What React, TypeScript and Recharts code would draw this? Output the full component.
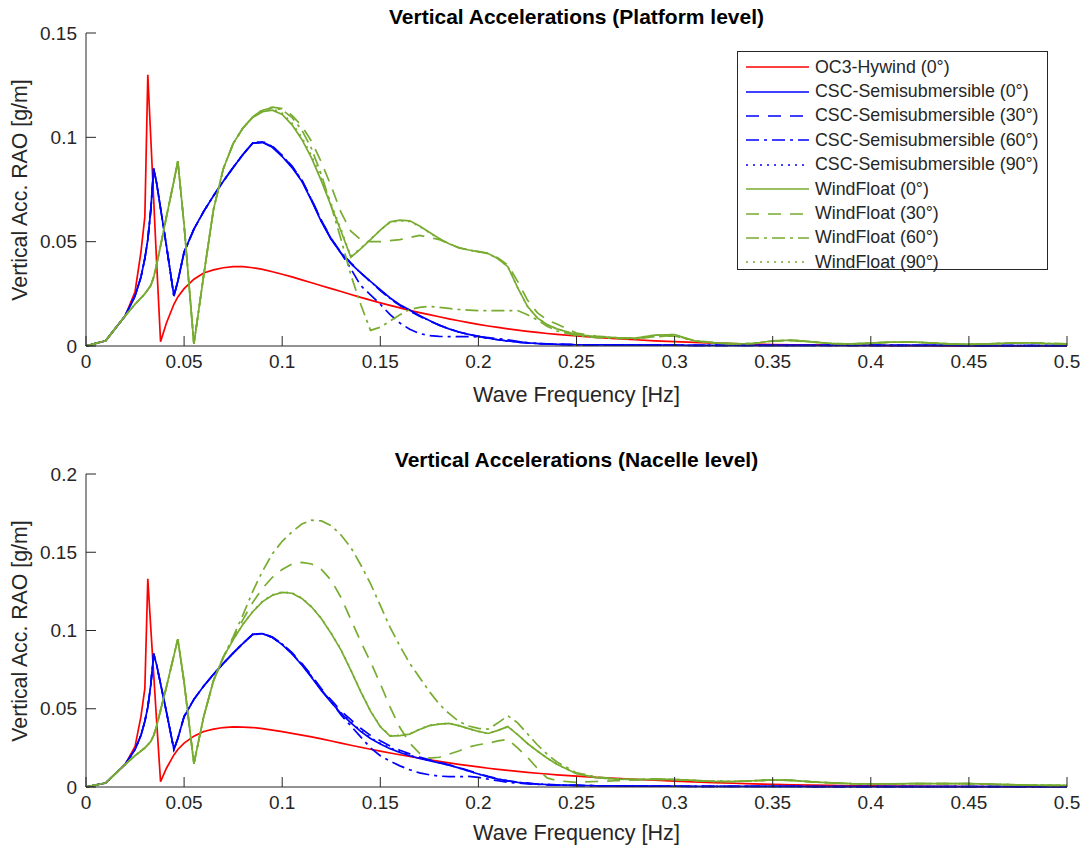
import { Legend, Line, LineChart, XAxis, YAxis } from "recharts";

// wave frequency [Hz]
const FREQ = [
  0, 0.01, 0.02, 0.025, 0.028, 0.03, 0.0315, 0.033, 0.0345, 0.036,
  0.038, 0.041, 0.0448, 0.0468, 0.05, 0.055, 0.06, 0.065, 0.07, 0.075,
  0.08, 0.085, 0.09, 0.095, 0.1, 0.105, 0.11, 0.115, 0.12, 0.125,
  0.13, 0.135, 0.14, 0.145, 0.15, 0.155, 0.16, 0.165, 0.17, 0.175,
  0.18, 0.185, 0.19, 0.195, 0.2, 0.205, 0.21, 0.215, 0.22, 0.225,
  0.23, 0.235, 0.24, 0.25, 0.26, 0.27, 0.28, 0.29, 0.3, 0.31,
  0.32, 0.33, 0.34, 0.35, 0.36, 0.37, 0.38, 0.39, 0.4, 0.41,
  0.42, 0.43, 0.44, 0.45, 0.46, 0.47, 0.48, 0.49, 0.5,
];

// ---- platform level ----
const OC3_P = [
  0, 0.0025, 0.0145, 0.026, 0.045, 0.062, 0.13, 0.1, 0.07, 0.04,
  0.002, 0.011, 0.02, 0.0235, 0.0275, 0.032, 0.035, 0.0365, 0.0375, 0.038,
  0.038, 0.0375, 0.0367, 0.0356, 0.0344, 0.0331, 0.0317, 0.0303, 0.0289, 0.0275,
  0.0261, 0.0247, 0.0233, 0.022, 0.0207, 0.0195, 0.0183, 0.0171, 0.016, 0.015,
  0.014, 0.013, 0.0121, 0.0112, 0.0104, 0.0096, 0.0089, 0.0082, 0.0076, 0.007,
  0.0065, 0.006, 0.0056, 0.0048, 0.0041, 0.0035, 0.003, 0.0025, 0.0021, 0.0017,
  0.0014, 0.0011, 0.0009, 0.0007, 0.0006, 0.0005, 0.0004, 0.0003, 0.0003, 0.0002,
  0.0002, 0.0002, 0.0001, 0.0001, 0.0001, 0.0001, 0.0001, 0.0001, 0.0001,
];
const CSC0_P = [
  0, 0.0025, 0.0145, 0.024, 0.033, 0.042, 0.051, 0.065, 0.085, 0.078,
  0.066, 0.048, 0.024, 0.031, 0.045, 0.056, 0.0645, 0.072, 0.079, 0.0855,
  0.0918, 0.0972, 0.0975, 0.0952, 0.0908, 0.0855, 0.079, 0.0695, 0.0595, 0.051,
  0.0445, 0.0395, 0.035, 0.031, 0.027, 0.023, 0.0198, 0.0172, 0.0146, 0.0122,
  0.01, 0.0082, 0.0067, 0.0056, 0.0046, 0.0037, 0.003, 0.0024, 0.0019, 0.0015,
  0.0012, 0.001, 0.0008, 0.0006, 0.0005, 0.0005, 0.0004, 0.0004, 0.0004, 0.0003,
  0.0003, 0.0003, 0.0003, 0.0003, 0.0003, 0.0003, 0.0003, 0.0003, 0.0003, 0.0003,
  0.0003, 0.0003, 0.0003, 0.0002, 0.0002, 0.0002, 0.0002, 0.0002, 0.0002,
];
const CSC30_P = [
  0, 0.0025, 0.0145, 0.024, 0.033, 0.042, 0.051, 0.065, 0.085, 0.078,
  0.066, 0.048, 0.024, 0.031, 0.045, 0.056, 0.0645, 0.072, 0.079, 0.0855,
  0.0918, 0.0972, 0.0978, 0.0958, 0.0914, 0.0862, 0.0796, 0.0702, 0.0602, 0.0515,
  0.0448, 0.0398, 0.0352, 0.0308, 0.0266, 0.0226, 0.0194, 0.0168, 0.0143, 0.012,
  0.01, 0.0082, 0.0067, 0.0056, 0.0046, 0.0037, 0.003, 0.0024, 0.0019, 0.0015,
  0.0012, 0.001, 0.0008, 0.0006, 0.0005, 0.0005, 0.0004, 0.0004, 0.0004, 0.0003,
  0.0003, 0.0003, 0.0003, 0.0003, 0.0003, 0.0003, 0.0003, 0.0003, 0.0003, 0.0003,
  0.0003, 0.0003, 0.0003, 0.0002, 0.0002, 0.0002, 0.0002, 0.0002, 0.0002,
];
const CSC60_P = [
  0, 0.0025, 0.0145, 0.024, 0.033, 0.042, 0.051, 0.065, 0.085, 0.078,
  0.066, 0.048, 0.024, 0.031, 0.045, 0.056, 0.0645, 0.072, 0.079, 0.0855,
  0.0918, 0.0973, 0.0977, 0.0955, 0.0911, 0.086, 0.0795, 0.07, 0.06, 0.0512,
  0.0445, 0.037, 0.029, 0.0245, 0.02, 0.015, 0.011, 0.008, 0.006, 0.005,
  0.0046, 0.0045, 0.0045, 0.0045, 0.0044, 0.004, 0.0035, 0.003, 0.0022, 0.0016,
  0.0012, 0.001, 0.0008, 0.0006, 0.0005, 0.0005, 0.0004, 0.0004, 0.0004, 0.0003,
  0.0003, 0.0003, 0.0003, 0.0003, 0.0003, 0.0003, 0.0003, 0.0003, 0.0003, 0.0003,
  0.0003, 0.0003, 0.0003, 0.0002, 0.0002, 0.0002, 0.0002, 0.0002, 0.0002,
];
const CSC90_P = [
  0, 0.0025, 0.0145, 0.024, 0.033, 0.042, 0.051, 0.065, 0.085, 0.078,
  0.066, 0.048, 0.024, 0.031, 0.045, 0.056, 0.0645, 0.072, 0.079, 0.0855,
  0.0918, 0.0974, 0.098, 0.0956, 0.091, 0.0858, 0.0793, 0.0698, 0.0598, 0.0512,
  0.0447, 0.0396, 0.035, 0.0309, 0.0268, 0.0228, 0.0196, 0.017, 0.0145, 0.0121,
  0.01, 0.0082, 0.0067, 0.0056, 0.0046, 0.0037, 0.003, 0.0024, 0.0019, 0.0015,
  0.0012, 0.001, 0.0008, 0.0006, 0.0005, 0.0005, 0.0004, 0.0004, 0.0004, 0.0003,
  0.0003, 0.0003, 0.0003, 0.0003, 0.0003, 0.0003, 0.0003, 0.0003, 0.0003, 0.0003,
  0.0003, 0.0003, 0.0003, 0.0002, 0.0002, 0.0002, 0.0002, 0.0002, 0.0002,
];
const WF0_P = [
  0, 0.0025, 0.0145, 0.02, 0.023, 0.025, 0.027, 0.029, 0.033, 0.039,
  0.048, 0.062, 0.079, 0.0886, 0.058, 0.001, 0.034, 0.0655, 0.085, 0.097,
  0.1045, 0.1095, 0.1123, 0.113, 0.111, 0.106, 0.099, 0.09, 0.079, 0.067,
  0.055, 0.0425, 0.0465, 0.051, 0.0555, 0.0595, 0.0603, 0.06, 0.0575, 0.0545,
  0.0515, 0.049, 0.0472, 0.046, 0.0452, 0.0443, 0.0418, 0.038, 0.028, 0.019,
  0.0135, 0.0103, 0.0082, 0.0055, 0.0045, 0.004, 0.0038, 0.0052, 0.0055, 0.0025,
  0.0015, 0.001, 0.0012, 0.0025, 0.0028, 0.002, 0.0012, 0.001, 0.0014, 0.0019,
  0.002, 0.0015, 0.001, 0.0008, 0.001, 0.0014, 0.0015, 0.0012, 0.001,
];
const WF30_P = [
  0, 0.0025, 0.0145, 0.02, 0.023, 0.025, 0.027, 0.029, 0.033, 0.039,
  0.048, 0.062, 0.079, 0.0886, 0.058, 0.001, 0.034, 0.0655, 0.085, 0.097,
  0.1045, 0.1098, 0.1132, 0.1145, 0.1138, 0.1105, 0.1055, 0.098, 0.088, 0.0765,
  0.064, 0.055, 0.051, 0.05, 0.05, 0.0505, 0.051, 0.052, 0.053, 0.052,
  0.051, 0.049, 0.047, 0.046, 0.0452, 0.0445, 0.0422, 0.0388, 0.031, 0.022,
  0.016, 0.0125, 0.0105, 0.0062, 0.0048, 0.004, 0.0037, 0.0045, 0.005, 0.0026,
  0.0016, 0.0011, 0.0012, 0.0023, 0.0026, 0.0019, 0.0012, 0.001, 0.0013, 0.0018,
  0.0019, 0.0015, 0.001, 0.0008, 0.001, 0.0013, 0.0014, 0.0012, 0.001,
];
const WF60_P = [
  0, 0.0025, 0.0145, 0.02, 0.023, 0.025, 0.027, 0.029, 0.033, 0.039,
  0.048, 0.062, 0.079, 0.0886, 0.058, 0.001, 0.034, 0.0655, 0.085, 0.097,
  0.1045, 0.1098, 0.113, 0.1142, 0.1132, 0.1095, 0.1035, 0.0945, 0.082, 0.067,
  0.051, 0.034, 0.02, 0.0075, 0.009, 0.012, 0.015, 0.0175, 0.0185, 0.019,
  0.0185, 0.018, 0.0175, 0.0172, 0.017, 0.017, 0.017, 0.017, 0.017, 0.015,
  0.0125, 0.0095, 0.0072, 0.005, 0.004, 0.0036, 0.0034, 0.0045, 0.0048, 0.0024,
  0.0015, 0.001, 0.0012, 0.0024, 0.0027, 0.002, 0.0012, 0.001, 0.0014, 0.0018,
  0.0019, 0.0015, 0.001, 0.0008, 0.001, 0.0014, 0.0015, 0.0012, 0.001,
];
const WF90_P = [
  0, 0.0025, 0.0145, 0.02, 0.023, 0.025, 0.027, 0.029, 0.033, 0.039,
  0.048, 0.062, 0.079, 0.0886, 0.058, 0.001, 0.034, 0.0655, 0.085, 0.097,
  0.1045, 0.1097, 0.1127, 0.1136, 0.1116, 0.1068, 0.1, 0.0912, 0.0802, 0.068,
  0.0558, 0.043, 0.0468, 0.0512, 0.0555, 0.0593, 0.06, 0.0597, 0.0573, 0.0543,
  0.0515, 0.049, 0.0472, 0.046, 0.0452, 0.0443, 0.0418, 0.038, 0.028, 0.019,
  0.0135, 0.0103, 0.0082, 0.0055, 0.0045, 0.004, 0.0038, 0.0052, 0.0055, 0.0025,
  0.0015, 0.001, 0.0012, 0.0025, 0.0028, 0.002, 0.0012, 0.001, 0.0014, 0.0019,
  0.002, 0.0015, 0.001, 0.0008, 0.001, 0.0014, 0.0015, 0.0012, 0.001,
];

// ---- nacelle level ----
const OC3_N = [
  0, 0.0025, 0.0145, 0.026, 0.045, 0.063, 0.133, 0.102, 0.072, 0.042,
  0.0034, 0.012, 0.0205, 0.024, 0.028, 0.0325, 0.0355, 0.037, 0.038, 0.0384,
  0.0383, 0.038, 0.0373, 0.0364, 0.0354, 0.0343, 0.0332, 0.032, 0.0308, 0.0294,
  0.028, 0.0267, 0.0254, 0.0241, 0.0229, 0.0217, 0.0206, 0.0195, 0.0184, 0.0174,
  0.0164, 0.0154, 0.0145, 0.0136, 0.0128, 0.012, 0.0113, 0.0106, 0.01, 0.0094,
  0.0088, 0.0083, 0.0078, 0.007, 0.0062, 0.0055, 0.0049, 0.0043, 0.0038, 0.0033,
  0.0028, 0.0024, 0.002, 0.0017, 0.0014, 0.0012, 0.001, 0.0008, 0.0007, 0.0006,
  0.0005, 0.0004, 0.0004, 0.0003, 0.0003, 0.0002, 0.0002, 0.0002, 0.0002,
];
const CSC0_N = [
  0, 0.0025, 0.0145, 0.024, 0.033, 0.042, 0.051, 0.065, 0.0851, 0.078,
  0.066, 0.048, 0.024, 0.031, 0.045, 0.056, 0.0645, 0.072, 0.079, 0.0855,
  0.0918, 0.0975, 0.098, 0.0955, 0.091, 0.085, 0.078, 0.07, 0.0615, 0.054,
  0.047, 0.041, 0.0355, 0.031, 0.0275, 0.0245, 0.022, 0.02, 0.0182, 0.0168,
  0.0154, 0.014, 0.0122, 0.0102, 0.0083, 0.0065, 0.005, 0.0039, 0.003, 0.0024,
  0.0019, 0.0016, 0.0013, 0.001, 0.0008, 0.0007, 0.0006, 0.0005, 0.0005, 0.0004,
  0.0004, 0.0004, 0.0004, 0.0004, 0.0004, 0.0003, 0.0003, 0.0003, 0.0003, 0.0003,
  0.0003, 0.0003, 0.0003, 0.0003, 0.0002, 0.0002, 0.0002, 0.0002, 0.0002,
];
const CSC30_N = [
  0, 0.0025, 0.0145, 0.024, 0.033, 0.042, 0.051, 0.065, 0.0851, 0.078,
  0.066, 0.048, 0.024, 0.031, 0.045, 0.056, 0.0645, 0.072, 0.079, 0.0855,
  0.0918, 0.0975, 0.0982, 0.0958, 0.0915, 0.0858, 0.079, 0.0712, 0.0628, 0.0555,
  0.0485, 0.043, 0.0375, 0.033, 0.0295, 0.0262, 0.0235, 0.0212, 0.0192, 0.0174,
  0.0158, 0.0142, 0.0125, 0.0105, 0.0086, 0.0068, 0.0052, 0.004, 0.0031, 0.0025,
  0.0019, 0.0016, 0.0013, 0.001, 0.0008, 0.0007, 0.0006, 0.0005, 0.0005, 0.0004,
  0.0004, 0.0004, 0.0004, 0.0004, 0.0004, 0.0003, 0.0003, 0.0003, 0.0003, 0.0003,
  0.0003, 0.0003, 0.0003, 0.0003, 0.0002, 0.0002, 0.0002, 0.0002, 0.0002,
];
const CSC60_N = [
  0, 0.0025, 0.0145, 0.024, 0.033, 0.042, 0.051, 0.065, 0.0851, 0.078,
  0.066, 0.048, 0.024, 0.031, 0.045, 0.056, 0.0645, 0.072, 0.079, 0.0855,
  0.0918, 0.0976, 0.0981, 0.0957, 0.0912, 0.0855, 0.0785, 0.0705, 0.062, 0.0545,
  0.046, 0.039, 0.032, 0.025, 0.02, 0.0165, 0.0135, 0.011, 0.009, 0.0078,
  0.007, 0.0066, 0.0066, 0.0068, 0.0062, 0.005, 0.004, 0.003, 0.0025, 0.002,
  0.0017, 0.0014, 0.0012, 0.001, 0.0008, 0.0007, 0.0006, 0.0005, 0.0005, 0.0004,
  0.0004, 0.0004, 0.0004, 0.0004, 0.0004, 0.0003, 0.0003, 0.0003, 0.0003, 0.0003,
  0.0003, 0.0003, 0.0003, 0.0003, 0.0002, 0.0002, 0.0002, 0.0002, 0.0002,
];
const CSC90_N = [
  0, 0.0025, 0.0145, 0.024, 0.033, 0.042, 0.051, 0.065, 0.0851, 0.078,
  0.066, 0.048, 0.024, 0.031, 0.045, 0.056, 0.0645, 0.072, 0.079, 0.0855,
  0.0918, 0.0974, 0.0979, 0.0955, 0.0911, 0.0853, 0.0783, 0.0705, 0.0618, 0.0545,
  0.0475, 0.0415, 0.036, 0.0315, 0.028, 0.025, 0.0225, 0.0203, 0.0185, 0.017,
  0.0154, 0.014, 0.0122, 0.0102, 0.0083, 0.0065, 0.005, 0.0039, 0.003, 0.0024,
  0.0019, 0.0016, 0.0013, 0.001, 0.0008, 0.0007, 0.0006, 0.0005, 0.0005, 0.0004,
  0.0004, 0.0004, 0.0004, 0.0004, 0.0004, 0.0003, 0.0003, 0.0003, 0.0003, 0.0003,
  0.0003, 0.0003, 0.0003, 0.0003, 0.0002, 0.0002, 0.0002, 0.0002, 0.0002,
];
const WF0_N = [
  0, 0.0025, 0.0145, 0.02, 0.023, 0.025, 0.027, 0.029, 0.033, 0.039,
  0.049, 0.064, 0.084, 0.0945, 0.067, 0.015, 0.045, 0.068, 0.083, 0.094,
  0.104, 0.112, 0.1185, 0.1225, 0.1243, 0.1238, 0.1205, 0.115, 0.1075, 0.098,
  0.0875, 0.0745, 0.061, 0.0485, 0.0385, 0.0325, 0.0328, 0.0338, 0.0368, 0.0392,
  0.0402, 0.0406, 0.0392, 0.0373, 0.0355, 0.0342, 0.0362, 0.0386, 0.0335, 0.0278,
  0.023, 0.0185, 0.0145, 0.0085, 0.006, 0.005, 0.0048, 0.005, 0.0048, 0.0042,
  0.0036, 0.0035, 0.004, 0.0045, 0.0042, 0.0033, 0.0026, 0.0021, 0.002, 0.002,
  0.0021, 0.0022, 0.0022, 0.0021, 0.0018, 0.0015, 0.0012, 0.0011, 0.001,
];
const WF30_N = [
  0, 0.0025, 0.0145, 0.02, 0.023, 0.025, 0.027, 0.029, 0.033, 0.039,
  0.049, 0.064, 0.084, 0.0945, 0.067, 0.015, 0.045, 0.068, 0.083, 0.095,
  0.107, 0.118, 0.127, 0.134, 0.139, 0.1425, 0.1435, 0.1425, 0.139, 0.132,
  0.121, 0.107, 0.093, 0.08, 0.066, 0.051, 0.038, 0.028, 0.0215, 0.0185,
  0.019, 0.021, 0.023, 0.0255, 0.027, 0.028, 0.0295, 0.0305, 0.025, 0.019,
  0.012, 0.0058, 0.004, 0.003, 0.0035, 0.004, 0.0045, 0.005, 0.0048, 0.004,
  0.0036, 0.0035, 0.004, 0.0045, 0.0042, 0.0033, 0.0026, 0.0021, 0.002, 0.002,
  0.0021, 0.0022, 0.0022, 0.0021, 0.0018, 0.0015, 0.0012, 0.0011, 0.001,
];
const WF60_N = [
  0, 0.0025, 0.0145, 0.02, 0.023, 0.025, 0.027, 0.029, 0.033, 0.039,
  0.049, 0.064, 0.084, 0.0945, 0.067, 0.015, 0.045, 0.068, 0.083, 0.096,
  0.11, 0.125, 0.138, 0.149, 0.157, 0.163, 0.168, 0.1705, 0.17, 0.167,
  0.161, 0.153, 0.142, 0.13, 0.116, 0.102, 0.09, 0.079, 0.07, 0.061,
  0.053, 0.047, 0.042, 0.039, 0.0375, 0.037, 0.041, 0.0455, 0.041, 0.034,
  0.027, 0.021, 0.016, 0.009, 0.0065, 0.0052, 0.0048, 0.005, 0.0048, 0.0042,
  0.0036, 0.0035, 0.004, 0.0045, 0.0042, 0.0033, 0.0026, 0.0021, 0.002, 0.002,
  0.0021, 0.0022, 0.0022, 0.0021, 0.0018, 0.0015, 0.0012, 0.0011, 0.001,
];
const WF90_N = [
  0, 0.0025, 0.0145, 0.02, 0.023, 0.025, 0.027, 0.029, 0.033, 0.039,
  0.049, 0.064, 0.084, 0.0945, 0.067, 0.015, 0.045, 0.068, 0.083, 0.094,
  0.104, 0.1122, 0.1188, 0.1228, 0.1246, 0.124, 0.1208, 0.1152, 0.1077, 0.0982,
  0.0878, 0.0748, 0.0612, 0.0487, 0.0388, 0.0328, 0.033, 0.034, 0.037, 0.0393,
  0.0402, 0.0406, 0.0392, 0.0373, 0.0355, 0.0342, 0.0362, 0.0386, 0.0335, 0.0278,
  0.023, 0.0185, 0.0145, 0.0085, 0.006, 0.005, 0.0048, 0.005, 0.0048, 0.0042,
  0.0036, 0.0035, 0.004, 0.0045, 0.0042, 0.0033, 0.0026, 0.0021, 0.002, 0.002,
  0.0021, 0.0022, 0.0022, 0.0021, 0.0018, 0.0015, 0.0012, 0.0011, 0.001,
];

const X_TICKS = [0, 0.05, 0.1, 0.15, 0.2, 0.25, 0.3, 0.35, 0.4, 0.45, 0.5];
const Y_TICKS_P = [0, 0.05, 0.1, 0.15];
const Y_TICKS_N = [0, 0.05, 0.1, 0.15, 0.2];

const RED = "#ff0000";
const BLUE = "#0000ff";
const GREEN = "#77ac30";
const DASHED = "13 9";
const DASHDOT = "13 5 3 5";
const DOTTED = "2 5";
const INK = "#262626";
const FONT = "'Liberation Sans', Arial, sans-serif";
const TICK_LEN = 10;
const X_GAP = 9; // axis line -> top of x tick label
const Y_GAP = 9; // axis line -> end of y tick label

const SERIES = [
  { key: "oc3", name: "OC3-Hywind (0°)", color: RED, dash: undefined },
  { key: "csc0", name: "CSC-Semisubmersible (0°)", color: BLUE, dash: undefined },
  { key: "csc30", name: "CSC-Semisubmersible (30°)", color: BLUE, dash: DASHED },
  { key: "csc60", name: "CSC-Semisubmersible (60°)", color: BLUE, dash: DASHDOT },
  { key: "csc90", name: "CSC-Semisubmersible (90°)", color: BLUE, dash: DOTTED },
  { key: "wf0", name: "WindFloat (0°)", color: GREEN, dash: undefined },
  { key: "wf30", name: "WindFloat (30°)", color: GREEN, dash: DASHED },
  { key: "wf60", name: "WindFloat (60°)", color: GREEN, dash: DASHDOT },
  { key: "wf90", name: "WindFloat (90°)", color: GREEN, dash: DOTTED },
];

function buildRows(cols: Record<string, number[]>) {
  return FREQ.map((f, i) => {
    const row: Record<string, number> = { f };
    for (const k of Object.keys(cols)) row[k] = cols[k][i];
    return row;
  });
}

const platformRows = buildRows({
  oc3: OC3_P, csc0: CSC0_P, csc30: CSC30_P, csc60: CSC60_P, csc90: CSC90_P,
  wf0: WF0_P, wf30: WF30_P, wf60: WF60_P, wf90: WF90_P,
});
const nacelleRows = buildRows({
  oc3: OC3_N, csc0: CSC0_N, csc30: CSC30_N, csc60: CSC60_N, csc90: CSC90_N,
  wf0: WF0_N, wf30: WF30_N, wf60: WF60_N, wf90: WF90_N,
});

// MATLAB-style ticks: marks point into the plot box
function BottomTick({ x, y, payload }: any) {
  const axisY = y - X_GAP;
  return (
    <g>
      <line x1={x} x2={x} y1={axisY} y2={axisY - TICK_LEN} stroke={INK} />
      <text x={x} y={y} dy="0.71em" textAnchor="middle" fill={INK} fontSize={19} fontFamily={FONT}>
        {String(payload.value)}
      </text>
    </g>
  );
}
function LeftTick({ x, y, payload }: any) {
  const axisX = x + Y_GAP;
  return (
    <g>
      <line x1={axisX} x2={axisX + TICK_LEN} y1={y} y2={y} stroke={INK} />
      <text x={x} y={y} dy="0.355em" textAnchor="end" fill={INK} fontSize={19} fontFamily={FONT}>
        {String(payload.value)}
      </text>
    </g>
  );
}
function TopTick({ x, y }: any) {
  return <line x1={x} x2={x} y1={y} y2={y + TICK_LEN} stroke={INK} />;
}
function RightTick({ x, y }: any) {
  return <line x1={x} x2={x - TICK_LEN} y1={y} y2={y} stroke={INK} />;
}

function BoxLegend() {
  return (
    <div
      style={{
        width: 311,
        height: 219,
        boxSizing: "border-box",
        border: `1px solid ${INK}`,
        background: "#fff",
        paddingTop: 3,
        fontFamily: FONT,
        fontSize: 17.8,
        color: INK,
      }}
    >
      {SERIES.map((s) => (
        <div key={s.key} style={{ display: "flex", alignItems: "center", height: 24.4 }}>
          <svg width={77} height={10} style={{ flex: "none" }}>
            <line x1={8} x2={71} y1={5} y2={5} stroke={s.color} strokeWidth={1.6} strokeDasharray={s.dash} />
          </svg>
          <span style={{ whiteSpace: "nowrap" }}>{s.name}</span>
        </div>
      ))}
    </div>
  );
}

function Panel({
  rows,
  yMax,
  yTicks,
  withLegend,
}: {
  rows: Record<string, number>[];
  yMax: number;
  yTicks: number[];
  withLegend?: boolean;
}) {
  return (
    <LineChart width={1089} height={386} data={rows} margin={{ top: 33, right: 22, bottom: 0, left: 0 }}>
      <XAxis
        dataKey="f"
        type="number"
        domain={[0, 0.5]}
        ticks={X_TICKS}
        interval={0}
        height={40}
        tickLine={false}
        tickSize={0}
        tickMargin={X_GAP}
        stroke={INK}
        tick={BottomTick}
      />
      <XAxis
        xAxisId="top"
        orientation="top"
        type="number"
        domain={[0, 0.5]}
        ticks={X_TICKS}
        interval={0}
        height={0}
        tickLine={false}
        tickSize={0}
        tickMargin={0}
        tick={TopTick}
        stroke={INK}
      />
      <YAxis
        type="number"
        domain={[0, yMax]}
        ticks={yTicks}
        interval={0}
        width={86}
        tickLine={false}
        tickSize={0}
        tickMargin={Y_GAP}
        stroke={INK}
        tick={LeftTick}
      />
      <YAxis
        yAxisId="right"
        orientation="right"
        type="number"
        domain={[0, yMax]}
        ticks={yTicks}
        interval={0}
        width={0}
        tickLine={false}
        tickSize={0}
        tickMargin={0}
        tick={RightTick}
        stroke={INK}
      />
      {SERIES.map((s) => (
        <Line
          key={s.key}
          type="linear"
          dataKey={s.key}
          name={s.name}
          stroke={s.color}
          strokeWidth={1.7}
          strokeDasharray={s.dash}
          dot={false}
          activeDot={false}
          isAnimationActive={false}
        />
      ))}
      {withLegend && (
        <Legend
          layout="vertical"
          align="center"
          verticalAlign="middle"
          content={() => <BoxLegend />}
          wrapperStyle={{ left: 737, top: 51, width: 311, height: 219 }}
        />
      )}
    </LineChart>
  );
}

const titleStyle: React.CSSProperties = {
  position: "absolute",
  left: 86,
  width: 981,
  textAlign: "center",
  fontFamily: FONT,
  fontWeight: "bold",
  fontSize: 21,
  lineHeight: "24px",
  color: "#000",
  whiteSpace: "nowrap",
};
const xLabelStyle: React.CSSProperties = {
  position: "absolute",
  left: 86,
  width: 981,
  textAlign: "center",
  fontFamily: FONT,
  fontSize: 21.6,
  lineHeight: "24px",
  color: INK,
  whiteSpace: "nowrap",
};
const yLabelStyle: React.CSSProperties = {
  position: "absolute",
  left: 20 - 160,
  width: 320,
  textAlign: "center",
  fontFamily: FONT,
  fontSize: 21.3,
  lineHeight: "24px",
  color: INK,
  whiteSpace: "nowrap",
  transform: "rotate(-90deg)",
};

export default function App() {
  return (
    <div style={{ position: "absolute", left: 0, top: 0, width: 1089, height: 852, background: "#fff", overflow: "hidden" }}>
      <div style={{ position: "absolute", left: 0, top: 0 }}>
        <Panel rows={platformRows} yMax={0.15} yTicks={Y_TICKS_P} withLegend />
      </div>
      <div style={{ position: "absolute", left: 0, top: 441 }}>
        <Panel rows={nacelleRows} yMax={0.2} yTicks={Y_TICKS_N} />
      </div>
      <div style={{ ...titleStyle, top: 5 }}>Vertical Accelerations (Platform level)</div>
      <div style={{ ...titleStyle, top: 448 }}>Vertical Accelerations (Nacelle level)</div>
      <div style={{ ...xLabelStyle, top: 383 }}>Wave Frequency [Hz]</div>
      <div style={{ ...xLabelStyle, top: 821 }}>Wave Frequency [Hz]</div>
      <div style={{ ...yLabelStyle, top: 189.5 - 12 }}>Vertical Acc. RAO [g/m]</div>
      <div style={{ ...yLabelStyle, top: 630.5 - 12 }}>Vertical Acc. RAO [g/m]</div>
    </div>
  );
}
